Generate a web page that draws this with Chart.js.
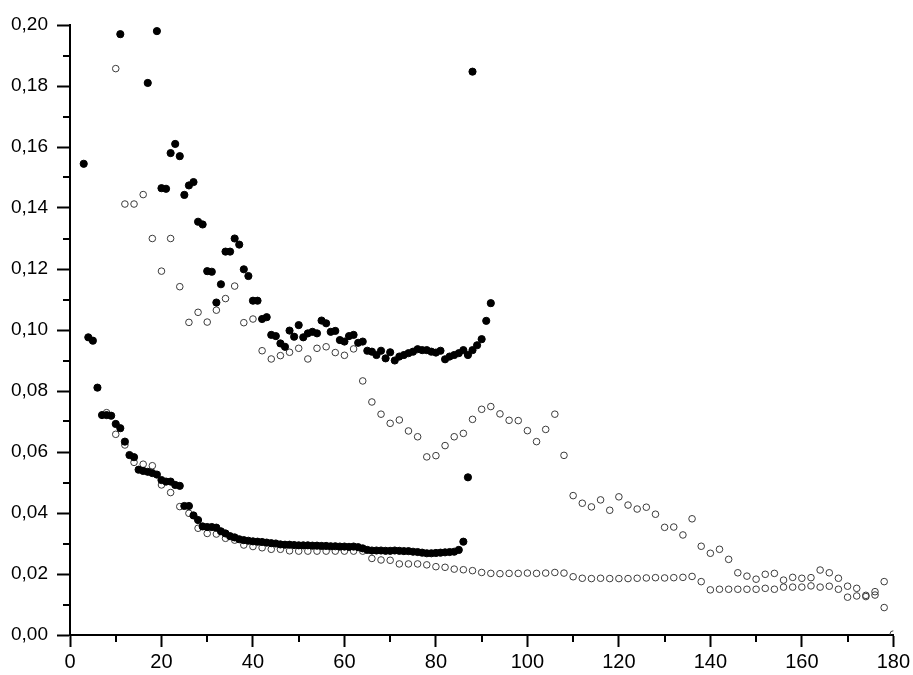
<!DOCTYPE html>
<html>
<head>
<meta charset="utf-8">
<script src="https://cdn.jsdelivr.net/npm/chart.js@4.4.1/dist/chart.umd.min.js"></script>
<style>
    html, body { margin: 0; padding: 0; background: #fff; }
    #box { width: 913px; height: 675px; }
</style>
</head>
<body>
<div id="box"><canvas id="grafico"></canvas></div>
<script>

// serie cheia superior
const xCheiaSup = [11,17,19,20,21,22,23,24,25,26,27,28,29,30,31,32,33,34,35,36,37,38,39,40,41,42,43,44,45,46,47,48,49,50,
    51,52,53,54,55,56,57,58,59,60,61,62,63,64,65,66,67,68,69,70,71,72,73,74,75,76,77,78,79,80,81,82,83,84,85,86,87,88,89,90,91,92];
const yCheiaSup = [0.197,0.181,0.198,0.1465,0.1463,0.158,0.161,0.157,0.1443,0.1474,0.1485,0.1355,0.1346,0.1193,0.1191,0.109,0.115,0.1257,0.1257,0.130,
    0.128,0.1199,0.1177,0.1096,0.1096,0.1036,0.1042,0.0984,0.098,0.0956,0.0945,0.0998,0.0978,0.1016,
    0.0976,0.0989,0.0994,0.0989,0.1031,0.1022,0.0994,0.0997,0.0967,0.0962,0.098,0.0984,0.0958,0.0962,0.0932,0.0929,
    0.0918,0.0932,0.0907,0.0927,0.090,0.0913,0.0918,0.0924,0.0929,0.0937,0.0934,0.0934,0.0929,0.0926,0.0932,0.0904,
    0.0913,0.0918,0.0924,0.0934,0.0918,0.0934,0.095,0.097,0.103,0.1088];

// serie cheia inferior
const xCheiaInf = [3,4,5,6,7,8,9,10,11,12,13,14,15,16,17,18,19,20,21,22,23,24,25,26,27,28,29,30,31,32,33,34,35,36,37,38,39,40,
    41,42,43,44,45,46,47,48,49,50,51,52,53,54,55,56,57,58,59,60,61,62,63,64,65,66,67,68,69,70,71,72,73,74,75,76,77,78,79,80,
    81,82,83,84,85,86,87,88];
const yCheiaInf = [0.1545,0.0976,0.0965,0.0811,0.0721,0.0721,0.0719,0.0692,0.0678,0.0634,0.059,0.0583,0.0542,0.0538,0.0535,0.0531,0.0526,
    0.0508,0.0503,0.0503,0.0492,0.0489,0.0423,0.0423,0.0392,0.0377,0.0356,0.0354,0.0354,0.0352,0.034,0.0333,0.0324,0.032,0.0314,
    0.0311,0.0309,0.0307,0.0306,0.0305,0.0303,0.0301,0.030,0.0297,0.0296,0.0296,0.0295,0.0294,0.0294,0.0294,0.0293,
    0.0293,0.0292,0.0292,0.0291,0.0291,0.029,0.029,0.0289,0.029,0.0288,0.0284,0.0279,0.0277,0.0277,0.0277,0.0276,0.0276,0.0277,
    0.0276,0.0275,0.0275,0.0273,0.0272,0.027,0.0268,0.0268,0.0269,0.027,0.0271,0.0272,0.0273,0.0279,0.0306,0.0517,0.1847];

// serie aberta superior
const xAbertaSup = [10,12,14,16,18,20,22,24,26,28,30,32,34,36,38,40,42,44,46,48,50,52,54,56,58,60,62,64,66,68,70,72,74,76,78,80,
    82,84,86,88,90,92,94,96,98,100,102,104,106,108,110,112,114,116,118,120,122,124,126,128,130,132,134,136,138,140,
    142,144,146,148,150,152,154,156,158,160,162,164,166,168,170,172,174,176,178];
const yAbertaSup = [0.1857,0.1413,0.1413,0.1444,0.130,0.1193,0.130,0.1142,0.1025,0.1058,0.1026,0.1065,0.1103,0.1144,0.1024,0.1036,
    0.0932,0.0905,0.0916,0.0927,0.094,0.0905,0.094,0.0945,0.0926,0.0917,0.0938,0.0833,0.0764,0.0724,0.0694,0.0705,0.0669,0.065,
    0.0584,0.0588,0.0621,0.065,0.0661,0.0707,0.074,0.0749,0.0725,0.0704,0.0703,0.067,0.0634,0.0674,0.0724,0.0589,0.0457,0.0432,
    0.042,0.0443,0.0409,0.0453,0.0426,0.0413,0.0419,0.0396,0.0353,0.0354,0.0328,0.0381,0.0291,0.0268,0.0281,0.0248,0.0204,
    0.0193,0.0183,0.0199,0.0202,0.018,0.0189,0.0186,0.0188,0.0213,0.0204,0.0186,0.0124,0.0128,0.0126,0.0142,0.0175];

// serie aberta inferior
const xAbertaInf = [8,10,12,14,16,18,20,22,24,26,28,30,32,34,36,38,40,42,44,46,48,50,52,54,56,58,60,62,64,66,68,70,72,74,76,78,80,
    82,84,86,88,90,92,94,96,98,100,102,104,106,108,110,112,114,116,118,120,122,124,126,128,130,132,134,136,138,140,
    142,144,146,148,150,152,154,156,158,160,162,164,166,168,170,172,174,176,178,180];
const yAbertaInf = [0.0729,0.0658,0.0623,0.0566,0.056,0.0555,0.0492,0.0467,0.0421,0.0399,0.035,0.0333,0.0331,0.0317,0.0311,0.0295,
    0.029,0.0286,0.0281,0.0281,0.0276,0.0275,0.0275,0.0275,0.0275,0.0275,0.0275,0.0275,0.0275,0.0251,0.0246,0.0245,0.0233,
    0.0233,0.0233,0.023,0.0224,0.0222,0.0216,0.0214,0.0211,0.0205,0.0202,0.0201,0.0202,0.0202,0.0203,0.0202,0.0203,0.0205,
    0.0203,0.0191,0.0186,0.0185,0.0186,0.0185,0.0185,0.0185,0.0186,0.0187,0.0188,0.0187,0.0188,0.0189,0.0192,0.0175,0.0148,
    0.015,0.015,0.015,0.015,0.015,0.0153,0.015,0.0157,0.0157,0.0157,0.0161,0.0157,0.016,0.015,0.016,0.0153,0.013,0.0131,
    0.009,0.0003];

const ticksX = [0,20,40,60,80,100,120,140,160,180];
const ticksY = [0,0.02,0.04,0.06,0.08,0.10,0.12,0.14,0.16,0.18,0.20];

const fonte = "'Liberation Sans', Arial, sans-serif";

function pontos(xs, ys){
    return xs.map((x, i) => ({ x: x, y: ys[i] }));
}

function cheia(xs, ys){
    return {
        data: pontos(xs, ys),
        pointRadius: 3.6,
        pointBorderWidth: 1,
        backgroundColor: "#000000",
        borderColor: "#000000",
        pointHoverRadius: 3.6
    };
}

function aberta(xs, ys){
    return {
        data: pontos(xs, ys),
        pointRadius: 3.3,
        pointBorderWidth: 1,
        backgroundColor: "rgba(255,255,255,0)",
        borderColor: "#3a3a3a",
        pointHoverRadius: 3.3
    };
}

// tracinhos menores entre os ticks principais
const tracosMenores = {
    id: "tracosMenores",
    afterDraw(chart){
        const c = chart.ctx;
        const sx = chart.scales.x;
        const sy = chart.scales.y;
        c.save();
        c.strokeStyle = "#000";
        c.lineWidth = 2;
        c.beginPath();
        for(let i = 0; i < ticksX.length - 1; i++){
            const px = Math.round(sx.getPixelForValue((ticksX[i] + ticksX[i + 1]) / 2));
            c.moveTo(px, sy.bottom);
            c.lineTo(px, sy.bottom + 7);
        }
        for(let i = 0; i < ticksY.length - 1; i++){
            const py = Math.round(sy.getPixelForValue((ticksY[i] + ticksY[i + 1]) / 2));
            c.moveTo(sx.left, py);
            c.lineTo(sx.left - 7, py);
        }
        c.stroke();
        c.restore();
    }
};

const ctx = document.getElementById("grafico");

new Chart(ctx, {
    type: "scatter",
    data: {
        datasets: [
            cheia(xCheiaSup, yCheiaSup),
            cheia(xCheiaInf, yCheiaInf),
            aberta(xAbertaSup, yAbertaSup),
            aberta(xAbertaInf, yAbertaInf)
        ]
    },
    options: {
        responsive: true,
        maintainAspectRatio: false,
        animation: false,
        layout: {
            padding: { top: 25, right: 18, left: 0, bottom: 0 }
        },
        plugins: {
            legend: { display: false },
            tooltip: { enabled: false }
        },
        scales: {
            x: {
                type: "linear",
                position: "bottom",
                min: 0,
                max: 180,
                afterFit(s){ s.height = 40; },
                afterBuildTicks(s){ s.ticks = ticksX.map(v => ({ value: v })); },
                ticks: {
                    color: "#000",
                    padding: 3,
                    maxRotation: 0,
                    font: { family: fonte, size: 20 }
                },
                grid: {
                    drawOnChartArea: false,
                    drawTicks: true,
                    tickLength: 12,
                    tickWidth: 2,
                    tickColor: "#000"
                },
                border: { color: "#000", width: 2 }
            },
            y: {
                min: 0,
                max: 0.2,
                afterFit(s){ s.width = 70; },
                afterBuildTicks(s){ s.ticks = ticksY.map(v => ({ value: v })); },
                ticks: {
                    color: "#000",
                    padding: 9,
                    font: { family: fonte, size: 19 },
                    callback: v => v.toFixed(2).replace(".", ",")
                },
                grid: {
                    drawOnChartArea: false,
                    drawTicks: true,
                    tickLength: 13,
                    tickWidth: 2,
                    tickColor: "#000"
                },
                border: { color: "#000", width: 2 }
            }
        }
    },
    plugins: [tracosMenores]
});

</script>
</body>
</html>
